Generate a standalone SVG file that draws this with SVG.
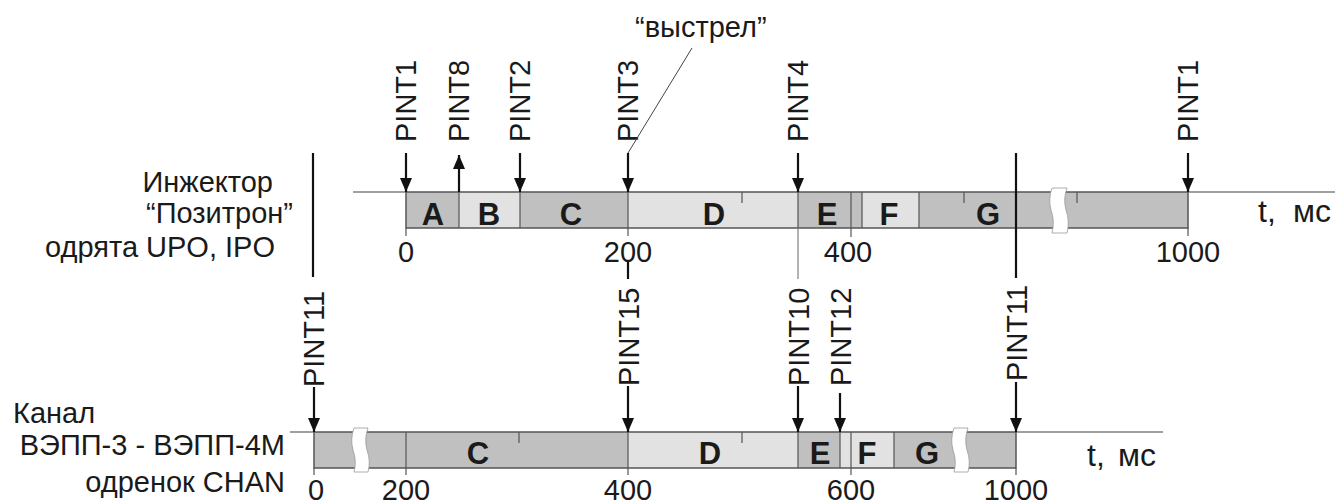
<svg xmlns="http://www.w3.org/2000/svg" width="1335" height="504" viewBox="0 0 1335 504">
<defs>
<marker id="ah" viewBox="0 0 14 12" refX="14" refY="6" markerWidth="14" markerHeight="12" markerUnits="userSpaceOnUse" orient="auto">
<path d="M0,0 L14,6 L0,12 Z" fill="#111"/>
</marker>
<style>
text{font-family:"Liberation Sans",Arial,sans-serif;fill:#1a1a1a}
.t{font-size:29px}
.u{font-size:32px}
.lab{font-size:29px}
.seg{font-size:31px;font-weight:bold;text-anchor:middle}
.num{font-size:29px;text-anchor:middle}
.med{fill:#c0c0c0}
.lt{fill:#e2e2e2}
.outline{fill:none;stroke:#555;stroke-width:1.5}
.div{stroke:#555;stroke-width:1.2;fill:none}
.base{stroke:#808080;stroke-width:1.5;fill:none}
.thin{stroke:#808080;stroke-width:1.2;fill:none}
.arr{stroke:#111;stroke-width:2.2;fill:none;marker-end:url(#ah)}
.bl{stroke:#111;stroke-width:2.2;fill:none}
.brk{fill:#fff;stroke:#999;stroke-width:0.8}
</style>
</defs>
<rect width="1335" height="504" fill="#fff"/>

<g id="labels-left">
<text class="lab" x="273" y="192" text-anchor="end">Инжектор</text>
<text class="lab" x="293" y="223" text-anchor="end">“Позитрон”</text>
<text class="lab" x="275" y="257" text-anchor="end">одрята UPO, IPO</text>
<text class="lab" x="13" y="423">Канал</text>
<text class="lab" x="285" y="455" text-anchor="end">ВЭПП-3 - ВЭПП-4М</text>
<text class="lab" x="285" y="492" text-anchor="end">одренок CHAN</text>
</g>

<g id="top-bar">
<line class="base" x1="353" y1="192" x2="406" y2="192"/>
<line class="base" x1="1188" y1="192" x2="1335" y2="192"/>
<rect class="med" x="406" y="192" width="53" height="36"/>
<rect class="lt" x="459" y="192" width="61" height="36"/>
<rect class="med" x="520" y="192" width="108" height="36"/>
<rect class="lt" x="628" y="192" width="170" height="36"/>
<rect class="med" x="798" y="192" width="64" height="36"/>
<rect class="lt" x="862" y="192" width="57" height="36"/>
<rect class="med" x="919" y="192" width="269" height="36"/>
<rect class="outline" x="406" y="192" width="782" height="36"/>
<path class="div" d="M459,192V228 M520,192V228 M628,192V236 M798,192V228 M851,192V237 M862,192V228 M919,192V228 M742,192V203 M964,192V203 M1077,192V203 M406,228V236 M1188,228V236"/>
<path class="brk" d="M1052,188 L1067,188 Q1063,199 1066,210 Q1070,221 1067,233 L1052,233 Q1055,221 1051,210 Q1048,199 1052,188 Z"/>
<text class="seg" x="433" y="225">A</text>
<text class="seg" x="489" y="225">B</text>
<text class="seg" x="571" y="225">C</text>
<text class="seg" x="714" y="225">D</text>
<text class="seg" x="827" y="225">E</text>
<text class="seg" x="889" y="225">F</text>
<text class="seg" x="988" y="225">G</text>
<text class="u" x="1258" y="222">t,<tspan x="1293">мс</tspan></text>
<text class="num" x="406" y="262">0</text>
<text class="num" x="628" y="262">200</text>
<text class="num" x="848" y="262">400</text>
<text class="num" x="1188" y="262">1000</text>
</g>

<g id="bottom-bar">
<line class="base" x1="290" y1="432" x2="314" y2="432"/>
<line class="base" x1="1016" y1="432" x2="1163" y2="432"/>
<rect class="med" x="314" y="432" width="314" height="36"/>
<rect class="lt" x="628" y="432" width="170" height="36"/>
<rect class="med" x="798" y="432" width="42" height="36"/>
<rect class="lt" x="840" y="432" width="54" height="36"/>
<rect class="med" x="894" y="432" width="122" height="36"/>
<rect class="outline" x="314" y="432" width="702" height="36"/>
<path class="div" d="M406,432V475 M628,432V475 M798,432V468 M840,432V468 M851,432V475 M894,432V468 M519,432V443 M742,432V443 M314,468V475 M1016,468V475"/>
<path class="brk" d="M354,428 L368,428 Q364,439 367,450 Q371,461 368,472 L354,472 Q357,461 353,450 Q350,439 354,428 Z"/>
<path class="brk" d="M954,428 L968,428 Q964,439 967,450 Q971,461 968,472 L954,472 Q957,461 953,450 Q950,439 954,428 Z"/>
<text class="seg" x="478" y="464">C</text>
<text class="seg" x="710" y="464">D</text>
<text class="seg" x="820" y="464">E</text>
<text class="seg" x="867" y="464">F</text>
<text class="seg" x="927" y="464">G</text>
<text class="u" x="1087" y="466">t,<tspan x="1118">мс</tspan></text>
<text class="num" x="316" y="500">0</text>
<text class="num" x="406" y="500">200</text>
<text class="num" x="628" y="500">400</text>
<text class="num" x="851" y="500">600</text>
<text class="num" x="1016" y="500">1000</text>
</g>

<g id="pint-labels">
<text class="t" transform="translate(416,142) rotate(-90)">PINT1</text>
<text class="t" transform="translate(469,142) rotate(-90)">PINT8</text>
<text class="t" transform="translate(530,142) rotate(-90)">PINT2</text>
<text class="t" transform="translate(638,142) rotate(-90)">PINT3</text>
<text class="t" transform="translate(808,142) rotate(-90)">PINT4</text>
<text class="t" transform="translate(1198,142) rotate(-90)">PINT1</text>
<text class="t" transform="translate(324,387) rotate(-90)">PINT11</text>
<text class="t" transform="translate(639,386) rotate(-90)">PINT15</text>
<text class="t" transform="translate(809,386) rotate(-90)">PINT10</text>
<text class="t" transform="translate(851,386) rotate(-90)">PINT12</text>
<text class="t" transform="translate(1027,381) rotate(-90)">PINT11</text>
<text class="t" x="635" y="37">“выстрел”</text>
</g>

<g id="connectors">
<line class="arr" x1="406" y1="153" x2="406" y2="192"/>
<line class="arr" x1="459" y1="192" x2="459" y2="155"/>
<line class="arr" x1="520" y1="153" x2="520" y2="192"/>
<line class="arr" x1="628" y1="153" x2="628" y2="192"/>
<line class="arr" x1="798" y1="153" x2="798" y2="192"/>
<line class="arr" x1="1188" y1="153" x2="1188" y2="192"/>
<line x1="692" y1="48" x2="628" y2="153" stroke="#444" stroke-width="1"/>
<line class="bl" x1="313" y1="153" x2="313" y2="277"/>
<line class="bl" x1="1016" y1="153" x2="1016" y2="278"/>
<line class="thin" x1="798" y1="228" x2="798" y2="279"/>
<line class="bl" x1="628" y1="262" x2="628" y2="279"/>
<line class="arr" x1="314" y1="387" x2="314" y2="432"/>
<line class="arr" x1="628" y1="386" x2="628" y2="432"/>
<line class="arr" x1="798" y1="386" x2="798" y2="432"/>
<line class="arr" x1="840" y1="393" x2="840" y2="432"/>
<line class="arr" x1="1016" y1="382" x2="1016" y2="432"/>
</g>
</svg>
